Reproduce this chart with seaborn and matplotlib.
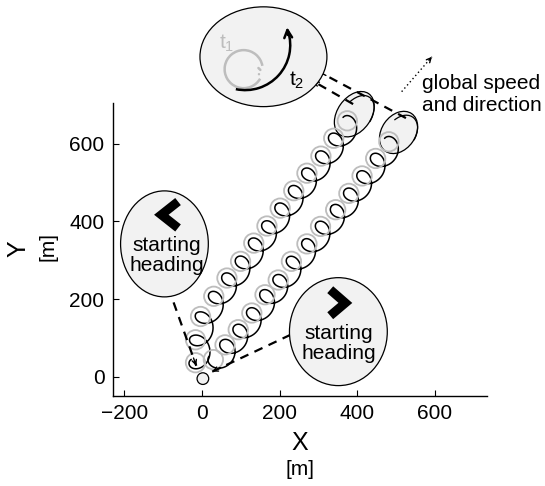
import numpy as np
import pandas as pd
import matplotlib
matplotlib.use("Agg")
import matplotlib.pyplot as plt
import seaborn as sns
from matplotlib.patches import Circle, Ellipse, Arc

# grey circle centres (metres)
left_x = [-17, -17, -4, 30, 64, 99, 133, 167, 201, 236, 270, 306, 339, 374]
left_y = [36, 95, 155, 207, 254, 297, 344, 388, 434, 479, 524, 568, 614, 659]
right_x = [29, 59, 93, 128, 162, 196, 230, 270, 305, 344, 378, 412, 447, 481]
right_y = [44, 82, 121, 164, 211, 249, 297, 342, 387, 430, 472, 517, 562, 605]
radius = 25
loop_radius = 27
start_xy = (2, -5)

x_ticks = [-200, 0, 200, 400, 600]
y_ticks = [0, 200, 400, 600]

sns.set_theme(style="ticks")
plt.rcParams["font.family"] = ["Liberation Sans", "DejaVu Sans"]
plt.rcParams["mathtext.fontset"] = "custom"
plt.rcParams["mathtext.rm"] = "Liberation Sans"
plt.rcParams["mathtext.it"] = "Liberation Sans"
plt.rcParams["text.color"] = "black"
plt.rcParams["xtick.labelcolor"] = "black"
plt.rcParams["ytick.labelcolor"] = "black"

GREY = "#bdbdbd"
FILL = "#f2f2f2"


def loop_path(cx, cy, r, phase, shift, name):
    # black path: one turn between consecutive grey circles, drawn a bit to the right
    rows = []
    for k in range(len(cx) - 1):
        s = np.linspace(0, 1, 90)
        ang = phase + 2 * np.pi * s
        x = cx[k] + s * (cx[k + 1] - cx[k]) + r * np.cos(ang) + shift[0]
        y = cy[k] + s * (cy[k + 1] - cy[k]) + r * np.sin(ang) + shift[1]
        rows.append(pd.DataFrame({"x": x, "y": y}))
    df = pd.concat(rows, ignore_index=True)
    df["track"] = name
    return df


phase0 = np.deg2rad(142)
shift = (13 * np.cos(np.deg2rad(-38)), 13 * np.sin(np.deg2rad(-38)))
paths = pd.concat([loop_path(left_x, left_y, loop_radius, phase0, shift, "left"),
                   loop_path(right_x, right_y, loop_radius, phase0, shift, "right")],
                  ignore_index=True)

fig = plt.figure(figsize=(5.45, 4.86), dpi=100)
ax = fig.add_axes([0.207, 0.185, 0.686, 0.604])

# small end ellipses (behind the tracks)
for c, w, h in [((392, 676), 129, 87), ((506, 629), 118, 87)]:
    ax.add_patch(Ellipse(c, w, h, angle=55, fc=FILL, ec="black", lw=0.9, zorder=1, clip_on=False))
    ax.add_patch(Arc((c[0] + 6, c[1] - 4), w * 0.9, h * 0.85, angle=55, theta1=-80, theta2=60,
                     color="black", lw=0.9, zorder=1, clip_on=False))

sns.lineplot(data=paths, x="x", y="y", units="track", estimator=None, sort=False,
             color="black", lw=1.1, ax=ax, zorder=2)
for cx, cy in [(left_x, left_y), (right_x, right_y)]:
    for x, y in zip(cx, cy):
        ax.add_patch(Circle((x, y), radius, fc="none", ec=GREY, lw=1.3, zorder=3))
ax.add_patch(Circle(start_xy, 15, fc=FILL, ec="black", lw=0.9, zorder=4))


def dashed(p0, p1, head_start=False, head_end=True, ls="--", lw=1.6):
    ax.plot([p0[0], p1[0]], [p0[1], p1[1]], color="black", ls=ls, lw=lw,
            zorder=5, clip_on=False, dashes=(4, 3) if ls == "--" else (1, 2))
    for a, b, on in [(p0, p1, head_end), (p1, p0, head_start)]:
        if on:
            tail = (a[0] + 0.9 * (b[0] - a[0]), a[1] + 0.9 * (b[1] - a[1]))
            ax.annotate("", xy=b, xytext=tail, annotation_clip=False,
                        arrowprops=dict(arrowstyle="->", color="black", lw=1.0,
                                        mutation_scale=8, shrinkA=0, shrinkB=0), zorder=5)


# top inset
ax.add_patch(Ellipse((158, 824), 327, 257, fc=FILL, ec="black", lw=0.9, zorder=6, clip_on=False))
ax.add_patch(Arc((107, 792), 98, 98, theta1=10, theta2=330, color=GREY, lw=1.8, zorder=7, clip_on=False))
ax.annotate("", xy=(150, 790), xytext=(140, 800), annotation_clip=False,
            arrowprops=dict(arrowstyle="-", color=GREY, lw=1.8), zorder=7)
ax.annotate("", xy=(153, 776), xytext=(140, 782), annotation_clip=False,
            arrowprops=dict(arrowstyle="-", color=GREY, lw=1.8), zorder=7)
ax.add_patch(Arc((111, 854), 232, 232, theta1=-102, theta2=18, color="black", lw=1.8, zorder=7, clip_on=False))
ax.annotate("", xy=(219, 900), xytext=(221, 880), annotation_clip=False,
            arrowprops=dict(arrowstyle="->", color="black", lw=1.8, mutation_scale=14,
                            shrinkA=0, shrinkB=0), zorder=7)
ax.text(64, 858, "t$_1$", color=GREY, fontsize=15, ha="center", va="center", zorder=8, clip_on=False)
ax.text(244, 764, "t$_2$", color="black", fontsize=15, ha="center", va="center", zorder=8, clip_on=False)

dashed((525, 666), (296, 788))
dashed((389, 702), (286, 761))

# starting heading circles
ax.add_patch(Ellipse((-97, 342), 226, 273, fc=FILL, ec="black", lw=0.9, zorder=6))
ax.plot([-62, -105, -62], [451, 417, 383], color="black", lw=6.5, solid_joinstyle="miter",
        solid_capstyle="butt", zorder=7)
ax.text(-91, 312, "starting\nheading", fontsize=15, ha="center", va="center",
        linespacing=1.1, zorder=8)
ax.add_patch(Ellipse((351, 116), 252, 278, fc=FILL, ec="black", lw=0.9, zorder=6, clip_on=False))
ax.plot([330, 369, 330], [224, 190, 157], color="black", lw=6.5, solid_joinstyle="miter",
        solid_capstyle="butt", zorder=7)
ax.text(351, 85, "starting\nheading", fontsize=15, ha="center", va="center",
        linespacing=1.1, zorder=8)

dashed((-87, 229), (-15, 28), head_start=True)
dashed((26, 13), (245, 116), head_start=True)

# global speed arrow
dashed((514, 734), (592, 824), ls=":", lw=1.0)
ax.text(566, 727, "global speed\nand direction", fontsize=15, ha="left", va="center",
        linespacing=1.15, clip_on=False)

ax.set_xlim(-230, 733)
ax.set_ylim(-50, 706)
ax.set_xticks(x_ticks)
ax.set_yticks(y_ticks)
ax.set_xlabel("")
ax.set_ylabel("")
ax.tick_params(direction="in", length=4, width=0.8, labelsize=15, pad=6, color="black")
sns.despine(ax=ax)
for side in ["left", "bottom"]:
    ax.spines[side].set_color("black")
    ax.spines[side].set_linewidth(1.0)

fig.text(0.550, 0.088, "X", fontsize=18, ha="center", va="center")
fig.text(0.550, 0.033, "[m]", fontsize=15, ha="center", va="center")
fig.text(0.033, 0.488, "Y", fontsize=18, ha="center", va="center", rotation=90)
fig.text(0.088, 0.492, "[m]", fontsize=15, ha="center", va="center", rotation=90)

fig.savefig("out.png", dpi=100)
